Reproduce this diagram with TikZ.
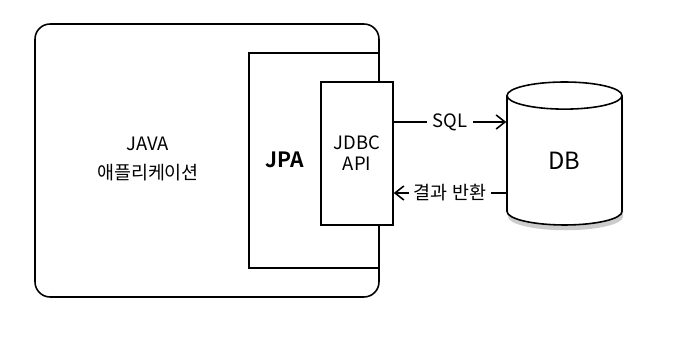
\documentclass[tikz,border=0pt]{standalone}
\usepackage{fontspec}
\setmainfont{Noto Sans CJK KR}[BoldFont={Noto Sans CJK KR Bold}]
\usepackage{tikz}
\usetikzlibrary{
    shapes.geometric,
    shadows,
    arrows.meta
}
\tikzset{
    >={Straight Barb[length=5pt,width=8pt]},
    box/.style={
        draw,
        line width=0.9pt,
        fill=white,
        inner sep=0pt
    },
    lbl/.style={
        fill=white,
        inner sep=3pt,
        font=\fontsize{10.5}{13}\selectfont
    }
}

\begin{document}
\begin{tikzpicture}[
    x=0.02cm,
    y=-0.02cm,
    line width=0.9pt
]
    \useasboundingbox (0,0) rectangle (689,350);

    % Aplicacion
    \node[box, rounded corners=0.3cm, minimum width=6.88cm, minimum height=5.46cm]
        (app) at (207,160.5) {};
    \node[align=center, font=\fontsize{10.5}{16}\selectfont]
        (applbl) at (148,159) {JAVA\\애플리케이션};

    % JPA
    \node[box, minimum width=2.6cm, minimum height=4.3cm]
        (jpa) at (314,160.5) {};
    \node[font=\fontsize{12}{14}\bfseries]
        (jpalbl) at (285,160) {JPA};

    % JDBC
    \node[box, minimum width=1.44cm, minimum height=2.86cm, align=center,
          font=\fontsize{10.5}{12}\selectfont]
        (jdbc) at (357,153.5) {JDBC\\API};

    % Base de datos
    \node[box, cylinder, shape border rotate=90, aspect=0.85,
          anchor=shape center,
          minimum width=2.3cm, minimum height=2.86cm,
          font=\fontsize{13.5}{16}\selectfont,
          drop shadow={opacity=0.4, shadow xshift=0.6pt, shadow yshift=-3pt}]
        (db) at (564.5,153.5) {DB};

    % Filas de las flechas
    \coordinate (sqlrow) at (0,122);
    \coordinate (resrow) at (0,193);

    % Conexiones
    \path[->]
        (jdbc.east |- sqlrow)
            edge node[lbl] {SQL} (db.west |- sqlrow)
        (db.west |- resrow)
            edge node[lbl] {결과 반환} (jdbc.east |- resrow);

\end{tikzpicture}
\end{document}
